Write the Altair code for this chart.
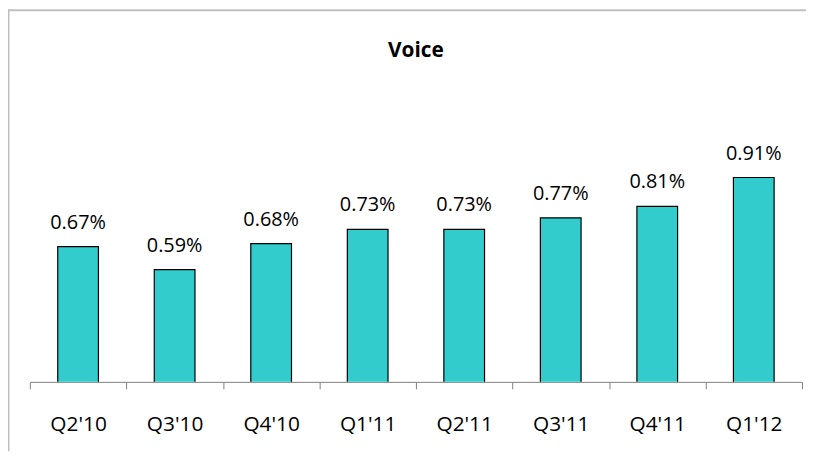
import altair as alt
import pandas as pd

quarters = ["Q2'10", "Q3'10", "Q4'10", "Q1'11", "Q2'11", "Q3'11", "Q4'11", "Q1'12"]
voice = [0.67, 0.59, 0.68, 0.73, 0.73, 0.77, 0.81, 0.91]
title_text = "Voice"

df = pd.DataFrame({"q": quarters, "v": voice})

W, H = 778, 232
PAD = {"left": 22, "top": 143, "right": 4, "bottom": 70}
FONT = "Open Sans"

x = alt.X("q:N", sort=quarters, title=None,
          scale=alt.Scale(paddingInner=0, paddingOuter=0),
          axis=alt.Axis(labelAngle=0, tickBand="extent", tickSize=7,
                        domainColor="#808080", tickColor="#808080",
                        labelFont=FONT, labelFontSize=21, labelColor="#000000",
                        labelBaseline="alphabetic", labelPadding=42))
y = alt.Y("v:Q", title=None, axis=None, scale=alt.Scale(domain=[0.2, 1.0], zero=False))

bars = alt.Chart(df).mark_bar(size=41, color="#33CCCC", stroke="#000000",
                               strokeWidth=1.2, clip=True).encode(x=x, y=y)

labels = alt.Chart(df).transform_calculate(
    lab="format(datum.v, '.2f') + '%'"
).mark_text(font=FONT, fontSize=20, color="#000000", baseline="alphabetic", dy=-18).encode(
    x=alt.X("q:N", sort=quarters), y="v:Q", text="lab:N")

one = pd.DataFrame({"a": [0]})
frame_top = alt.Chart(one).mark_rule(stroke="#BFBFBF", strokeWidth=2).encode(
    x=alt.value(-22.5), x2=alt.value(W + PAD["right"]), y=alt.value(-142.5))
frame_left = alt.Chart(one).mark_rule(stroke="#BFBFBF", strokeWidth=2).encode(
    x=alt.value(-21.5), y=alt.value(-143.5), y2=alt.value(H + PAD["bottom"]))

title = alt.Chart(pd.DataFrame({"t": [title_text]})).mark_text(
    font=FONT, fontSize=21, fontWeight="bold", color="#000000", baseline="alphabetic").encode(
    x=alt.value(W / 2), y=alt.value(-95), text="t:N")

chart = alt.layer(frame_top, frame_left, bars, labels, title).properties(
    width=W, height=H,
    padding=PAD,
    autosize=alt.AutoSizeParams(type="none"),
).configure_view(stroke=None)

chart.save("out.html", embed_options={"renderer": "svg", "actions": False})
